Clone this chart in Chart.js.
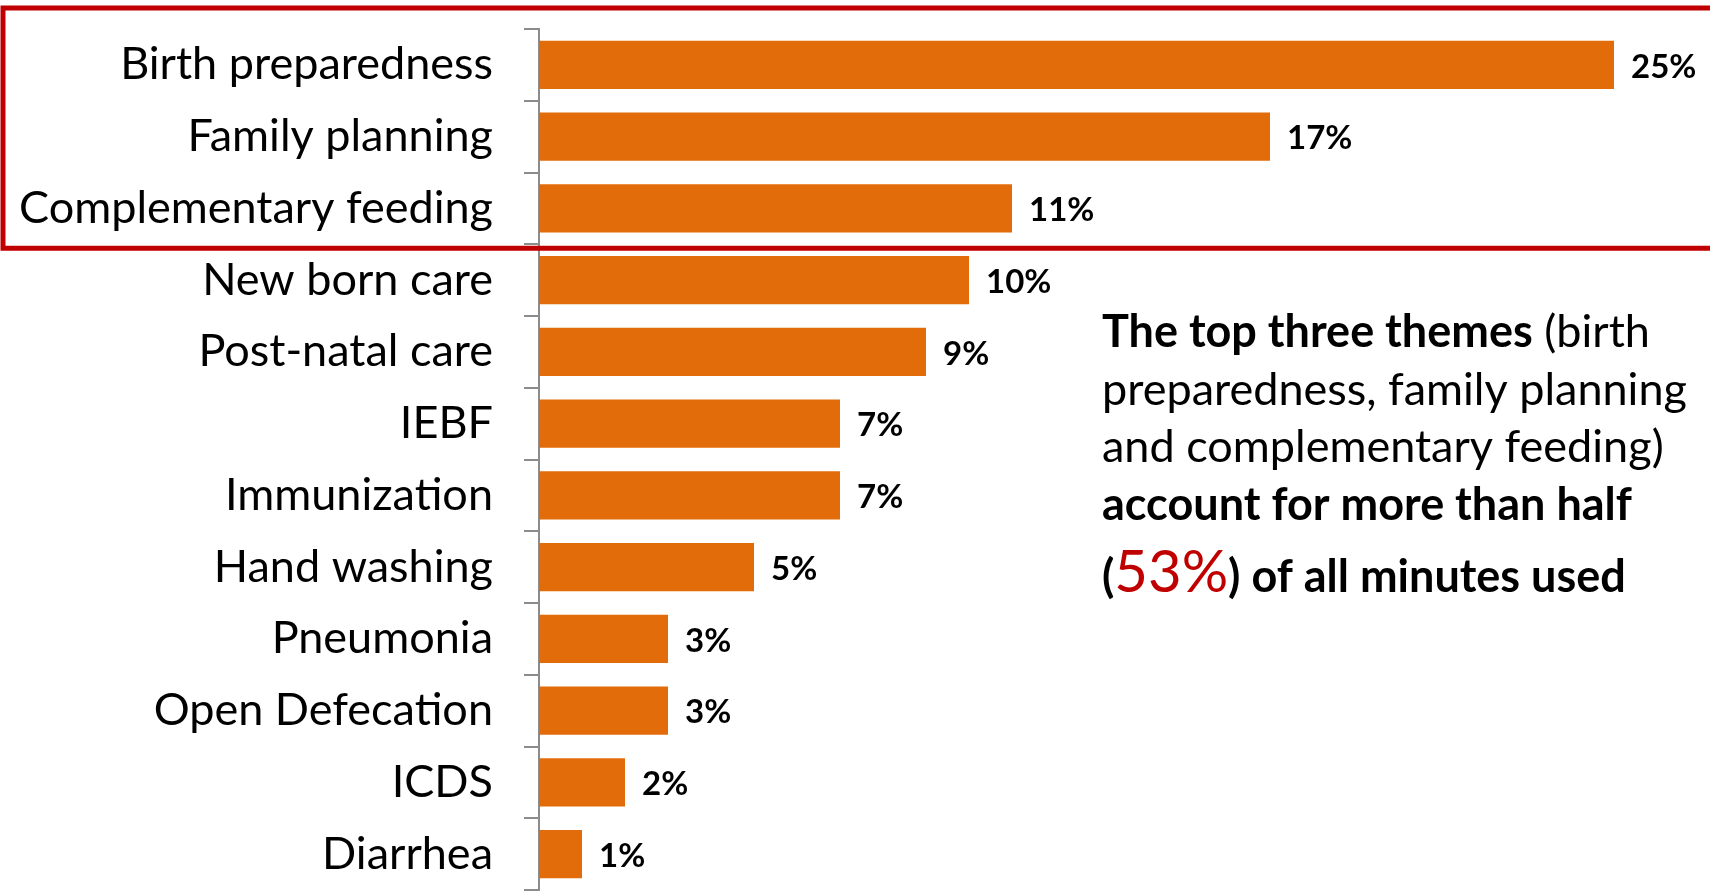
<!DOCTYPE html>
<html>
<head>
    <title></title>
    <script src="https://cdn.jsdelivr.net/npm/chart.js@4.4.0/dist/chart.umd.min.js"></script>
    <style>
        body { margin: 0; background: #fff; }
    </style>
</head>
<body>
    <canvas id="myChart" width="1710" height="895"></canvas>
    <script>
        // share of minutes used per theme (%)
        var themes = ["Birth preparedness", "Family planning", "Complementary feeding", "New born care",
                      "Post-natal care", "IEBF", "Immunization", "Hand washing", "Pneumonia",
                      "Open Defecation", "ICDS", "Diarrhea"];
        var shares = [25, 17, 11, 10, 9, 7, 7, 5, 3, 3, 2, 1];
        var topCount = 3;

        var orange = "#E36C0A";
        var red = "#C00000";
        var axisGrey = "#8C8C8C";
        var font = "Lato, 'Open Sans', sans-serif";

        var topTotal = shares.slice(0, topCount).reduce(function (a, b) { return a + b; }, 0);

        // percent labels just right of each bar
        var valueLabels = {
            id: "valueLabels",
            afterDatasetsDraw: function (chart) {
                var ctx = chart.ctx;
                var meta = chart.getDatasetMeta(0);
                ctx.save();
                ctx.font = "bold 33px " + font;
                ctx.fillStyle = "#000";
                ctx.textAlign = "left";
                ctx.textBaseline = "middle";
                meta.data.forEach(function (bar, i) {
                    ctx.fillText(shares[i] + "%", bar.x + 17, bar.y + 2);
                });
                ctx.restore();
            }
        };

        // red frame round the top themes + the note on the right
        var callout = {
            id: "callout",
            afterDraw: function (chart) {
                var ctx = chart.ctx;
                var y = chart.scales.y;
                var step = y.getPixelForValue(1) - y.getPixelForValue(0);
                var top = y.getPixelForValue(0) - step / 2 - 21;
                var bottom = y.getPixelForValue(topCount - 1) + step / 2 + 4;

                ctx.save();
                ctx.strokeStyle = red;
                ctx.lineWidth = 5;
                ctx.strokeRect(3, top, chart.width + 10, bottom - top);

                var lines = [
                    [["bold", "#000", 45, "The top three themes"], ["normal", "#000", 45, " (birth"]],
                    [["normal", "#000", 45, "preparedness, family planning"]],
                    [["normal", "#000", 45, "and complementary feeding)"]],
                    [["bold", "#000", 45, "account for more than half"]],
                    [["bold", "#000", 45, "("], ["normal", red, 58, topTotal + "%"], ["bold", "#000", 45, ") of all minutes used"]]
                ];
                var baselines = [347, 405, 462, 520, 592];
                ctx.textBaseline = "alphabetic";
                ctx.textAlign = "left";
                lines.forEach(function (parts, i) {
                    var x = 1102;
                    parts.forEach(function (p) {
                        ctx.font = p[0] + " " + p[2] + "px " + font;
                        ctx.fillStyle = p[1];
                        ctx.fillText(p[3], x, baselines[i]);
                        x += ctx.measureText(p[3]).width;
                    });
                });
                ctx.restore();
            }
        };

        var chart = new Chart(document.getElementById("myChart"), {
            type: "bar",
            data: {
                labels: themes,
                datasets: [{
                    data: shares,
                    backgroundColor: orange,
                    borderWidth: 0,
                    categoryPercentage: 1,
                    barPercentage: 0.67
                }]
            },
            options: {
                indexAxis: "y",
                responsive: false,
                animation: false,
                devicePixelRatio: 1,
                layout: { padding: { top: 29, bottom: 5, right: 10, left: 0 } },
                plugins: {
                    legend: { display: false },
                    tooltip: { enabled: false }
                },
                scales: {
                    x: { display: false, min: 0, max: 27 },
                    y: {
                        afterFit: function (scale) {
                            scale.width = 539;
                            scale.paddingTop = 0;
                            scale.paddingBottom = 0;
                        },
                        border: { color: axisGrey, width: 2 },
                        grid: {
                            drawOnChartArea: false,
                            offset: true,
                            tickLength: 15,
                            color: axisGrey,
                            lineWidth: 2
                        },
                        ticks: {
                            padding: 31,
                            color: "#000",
                            font: { family: font, size: 45 }
                        }
                    }
                }
            },
            plugins: [valueLabels, callout]
        });
    </script>
</body>
</html>
